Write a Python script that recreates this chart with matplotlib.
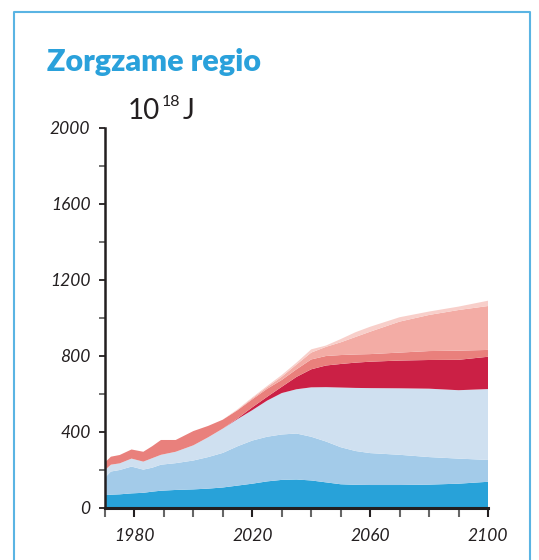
import matplotlib

matplotlib.use("Agg")
import matplotlib.pyplot as plt
from matplotlib.lines import Line2D

# jaar-punten
years = [1970, 1972, 1975, 1979, 1983, 1986, 1989, 1994, 2000, 2005, 2010, 2015, 2020,
         2025, 2030, 2035, 2040, 2045, 2050, 2055, 2060, 2070, 2080, 2090, 2100]

# laagdiktes in 10^18 J, van onder naar boven
blue_dark = [68, 70, 72, 77, 80, 86, 91, 95, 98, 102, 108, 118, 128,
             140, 148, 150, 145, 135, 125, 122, 121, 121, 123, 128, 138]
blue_mid = [92, 122, 128, 141, 122, 126, 137, 141, 152, 166, 182, 207, 227,
            235, 239, 242, 230, 215, 195, 178, 168, 159, 145, 132, 115]
blue_light = [40, 36, 35, 42, 42, 50, 52, 60, 80, 104, 128, 143, 160,
              190, 218, 233, 260, 286, 314, 332, 342, 350, 360, 360, 373]
red_dark = [0, 0, 0, 0, 0, 0, 0, 0, 0, 0, 0, 4, 15,
            20, 33, 65, 95, 114, 124, 133, 139, 146, 151, 160, 170]
red_mid = [40, 42, 44, 48, 52, 63, 78, 62, 75, 60, 47, 43, 42,
           42, 36, 40, 52, 50, 47, 43, 40, 42, 47, 48, 36]
red_light = [0, 0, 0, 0, 0, 0, 0, 0, 0, 0, 0, 2, 6,
             9, 17, 25, 36, 48, 67, 92, 118, 163, 190, 214, 231]
red_pale = [0, 0, 0, 0, 0, 0, 0, 0, 0, 0, 0, 3, 4,
            6, 9, 10, 17, 7, 17, 25, 26, 23, 18, 18, 28]

layer_colors = ["#28a2d9", "#a3cbe9", "#cfe0f0", "#cb2045", "#e9807c", "#f3aca5", "#f8cfca"]

y_major = [0, 400, 800, 1200, 1600, 2000]
y_minor = [200, 600, 1000, 1400, 1800]
x_major = [1980, 2020, 2060, 2100]
x_minor = [1970, 1990, 2000, 2010, 2030, 2040, 2050, 2070, 2080, 2090]

ink = "#231f20"
title_blue = "#2aa1db"

plt.rcParams["font.family"] = ["Lato", "DejaVu Sans"]

fig = plt.figure(figsize=(5.39, 5.60), dpi=100)
ax = fig.add_axes([105 / 539, 1 - 508 / 560, 383 / 539, 380 / 560])

ax.stackplot(years, blue_dark, blue_mid, blue_light, red_dark, red_mid, red_light, red_pale,
             colors=layer_colors, linewidth=0)

ax.set_xlim(1970, 2100)
ax.set_ylim(0, 2000)

for side in ["top", "right"]:
    ax.spines[side].set_visible(False)
ax.spines["left"].set_color(ink)
ax.spines["left"].set_linewidth(1.8)
ax.spines["bottom"].set_color(ink)
ax.spines["bottom"].set_linewidth(2.2)
ax.spines["bottom"].set_bounds(1970, 2100)

ax.set_yticks(y_major)
ax.set_yticks(y_minor, minor=True)
ax.set_yticklabels([str(v) for v in y_major], fontstyle="italic", fontsize=12.5, color=ink)
ax.tick_params(axis="y", which="both", direction="out", length=4.5, width=1.3, color=ink, pad=6)
ax.tick_params(axis="y", which="minor", color="#666666")

ax.set_xticks(x_major)
ax.set_xticks(x_minor, minor=True)
ax.set_xticklabels([str(v) for v in x_major], fontstyle="italic", fontsize=12.5, color=ink)
ax.tick_params(axis="x", which="both", direction="out", length=6.5, width=1.5, color=ink, pad=8)
ax.tick_params(axis="x", which="minor", color="#666666")

# titel en eenheid
fig.text(47 / 539, 1 - 71 / 560, "Zorgzame regio", fontsize=22, fontweight="heavy",
         color=title_blue, ha="left", va="baseline")
fig.text(128 / 539, 1 - 119 / 560, "10", fontsize=20, color=ink, ha="left", va="baseline")
fig.text(162 / 539, 1 - 106 / 560, "18", fontsize=11.5, color=ink, ha="left", va="baseline")
fig.text(183 / 539, 1 - 119 / 560, "J", fontsize=20, color=ink, ha="left", va="baseline")

# kader rond de figuur
frame = "#5ab4e3"
fx0, fx1, fy0 = 14 / 539, 530 / 539, 1 - 12 / 560
fig.add_artist(Line2D([fx0, fx0, fx1, fx1], [0, fy0, fy0, 0], color=frame, linewidth=1.5,
                      transform=fig.transFigure))

fig.savefig("out.png", dpi=100)
plt.close(fig)
